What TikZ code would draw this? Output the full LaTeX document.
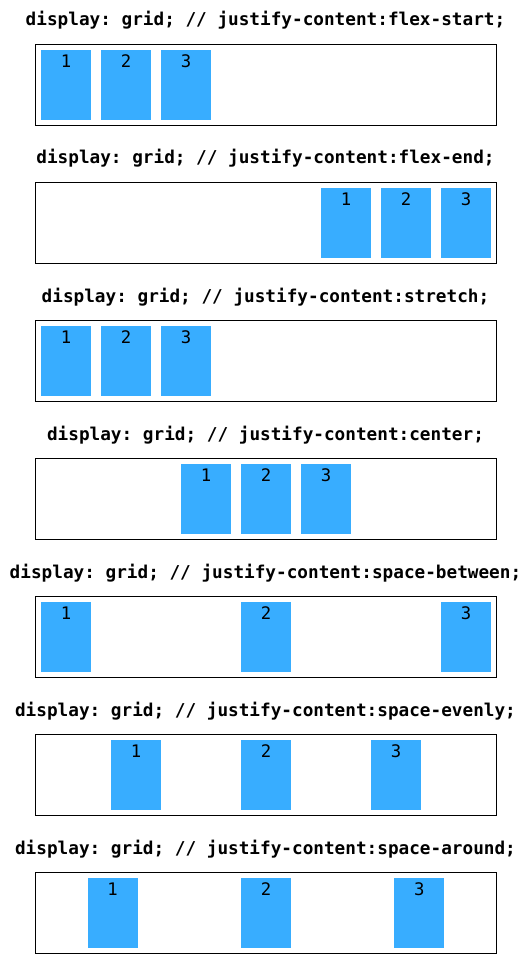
\documentclass[tikz,border=0pt]{standalone}
\usepackage{fontspec}
\setmonofont{DejaVu Sans Mono}
\usetikzlibrary{calc}
\definecolor{itemblue}{HTML}{38ADFF}
\begin{document}
\begin{tikzpicture}[x=1pt,y=-1pt,
  frame/.style={draw=black, line width=1.2pt, fill=white, minimum width=461pt, minimum height=81pt, anchor=north west, inner sep=0pt, outer sep=0pt},
  item/.style={fill=itemblue, minimum width=50pt, minimum height=70pt, inner sep=0pt, outer sep=0pt, anchor=north west},
  num/.style={font=\ttfamily\fontsize{17.3}{17.3}\selectfont, anchor=base, inner sep=0pt},
  title/.style={font=\ttfamily\bfseries\fontsize{17.7}{17.7}\selectfont, anchor=base, inner sep=0pt}]
\useasboundingbox (0,0) rectangle (532,960);
\foreach \i/\name/\xa/\xb/\xc in {0/flex-start/41/101/161, 1/flex-end/321/381/441, 2/stretch/41/101/161, 3/center/181/241/301, 4/space-between/41/241/441, 5/space-evenly/111/241/371, 6/space-around/87.67/241/394.33} {
  \pgfmathsetmacro\top{44+138*\i}
  \node[title] (t\i) at (265.5,\top-18) {display: grid; // justify-content:\name;};
  \node[frame] (b\i) at (35.5,\top+0.5) {};
  \node[item] (a\i) at (\xa,\top+6) {};
  \node[item] (c\i) at (\xb,\top+6) {};
  \node[item] (d\i) at (\xc,\top+6) {};
  \node[num] (na\i) at ($(a\i.north)+(0,17.7)$) {1};
  \node[num] (nc\i) at ($(c\i.north)+(0,17.7)$) {2};
  \node[num] (nd\i) at ($(d\i.north)+(0,17.7)$) {3};
}
\end{tikzpicture}
\end{document}
